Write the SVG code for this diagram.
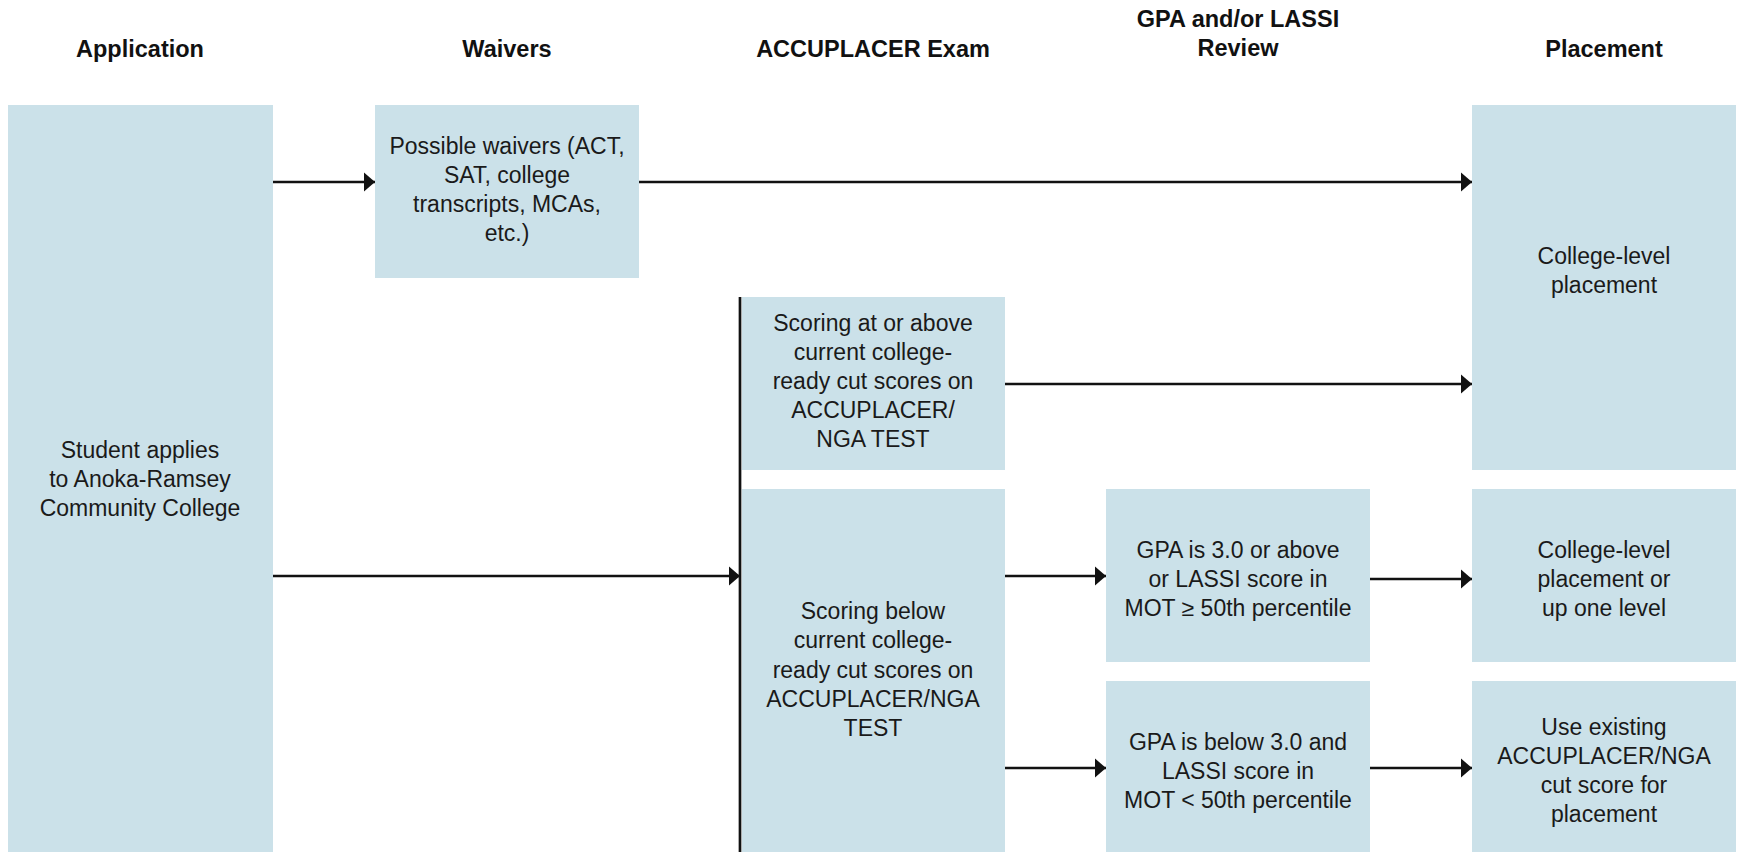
<svg xmlns="http://www.w3.org/2000/svg" width="1739" height="852" viewBox="0 0 1739 852">
<style>
  .box { fill: #cbe1e9; }
  .hdr { font-family: "Liberation Sans", Arial, sans-serif; font-size: 23.5px; font-weight: bold; fill: #111; text-anchor: middle; }
  .txt { font-family: "Liberation Sans", Arial, sans-serif; font-size: 23px; fill: #1a1a1a; text-anchor: middle; }
  .conn { stroke: #111; stroke-width: 2.7; fill: none; }
</style>
<defs>
  <marker id="arr" markerUnits="userSpaceOnUse" markerWidth="12" markerHeight="22" viewBox="0 0 12 22" refX="11" refY="11" orient="auto">
    <polygon points="0,1.5 11,11 0,20.5" fill="#111"/>
  </marker>
</defs>
<rect width="1739" height="852" fill="#ffffff"/>

<g id="headers">
  <text class="hdr" x="140" y="57">Application</text>
  <text class="hdr" x="507" y="57">Waivers</text>
  <text class="hdr" x="873" y="57">ACCUPLACER Exam</text>
  <text class="hdr" x="1238" y="27">GPA and/or LASSI</text>
  <text class="hdr" x="1238" y="56">Review</text>
  <text class="hdr" x="1604" y="57">Placement</text>
</g>

<g id="connectors">
  <line class="conn" x1="272" y1="182" x2="375" y2="182" marker-end="url(#arr)"/>
  <line class="conn" x1="639" y1="182" x2="1472" y2="182" marker-end="url(#arr)"/>
  <line class="conn" x1="1005" y1="384" x2="1472" y2="384" marker-end="url(#arr)"/>
  <line class="conn" x1="272" y1="576" x2="740" y2="576" marker-end="url(#arr)"/>
  <line class="conn" x1="1005" y1="576" x2="1106" y2="576" marker-end="url(#arr)"/>
  <line class="conn" x1="1370" y1="579" x2="1472" y2="579" marker-end="url(#arr)"/>
  <line class="conn" x1="1005" y1="768" x2="1106" y2="768" marker-end="url(#arr)"/>
  <line class="conn" x1="1370" y1="768" x2="1472" y2="768" marker-end="url(#arr)"/>
  <line class="conn" x1="740" y1="297" x2="740" y2="852" stroke-width="3"/>
</g>

<g id="application">
  <rect class="box" x="8" y="105" width="265" height="747"/>
  <text class="txt" x="140" y="458">Student applies</text>
  <text class="txt" x="140" y="487">to Anoka-Ramsey</text>
  <text class="txt" x="140" y="516">Community College</text>
</g>

<g id="waivers">
  <rect class="box" x="375" y="105" width="264" height="173"/>
  <text class="txt" x="507" y="154">Possible waivers (ACT,</text>
  <text class="txt" x="507" y="183">SAT, college</text>
  <text class="txt" x="507" y="212">transcripts, MCAs,</text>
  <text class="txt" x="507" y="241">etc.)</text>
</g>

<g id="scoring-above">
  <rect class="box" x="742" y="297" width="263" height="173"/>
  <text class="txt" x="873" y="331">Scoring at or above</text>
  <text class="txt" x="873" y="360">current college-</text>
  <text class="txt" x="873" y="389">ready cut scores on</text>
  <text class="txt" x="873" y="418">ACCUPLACER/</text>
  <text class="txt" x="873" y="447">NGA TEST</text>
</g>

<g id="scoring-below">
  <rect class="box" x="742" y="489" width="263" height="363"/>
  <text class="txt" x="873" y="619">Scoring below</text>
  <text class="txt" x="873" y="648">current college-</text>
  <text class="txt" x="873" y="678">ready cut scores on</text>
  <text class="txt" x="873" y="707">ACCUPLACER/NGA</text>
  <text class="txt" x="873" y="736">TEST</text>
</g>

<g id="gpa-above">
  <rect class="box" x="1106" y="489" width="264" height="173"/>
  <text class="txt" x="1238" y="558">GPA is 3.0 or above</text>
  <text class="txt" x="1238" y="587">or LASSI score in</text>
  <text class="txt" x="1238" y="616">MOT ≥ 50th percentile</text>
</g>

<g id="gpa-below">
  <rect class="box" x="1106" y="681" width="264" height="171"/>
  <text class="txt" x="1238" y="750">GPA is below 3.0 and</text>
  <text class="txt" x="1238" y="779">LASSI score in</text>
  <text class="txt" x="1238" y="808">MOT &lt; 50th percentile</text>
</g>

<g id="placement-college">
  <rect class="box" x="1472" y="105" width="264" height="365"/>
  <text class="txt" x="1604" y="264">College-level</text>
  <text class="txt" x="1604" y="293">placement</text>
</g>

<g id="placement-up">
  <rect class="box" x="1472" y="489" width="264" height="173"/>
  <text class="txt" x="1604" y="558">College-level</text>
  <text class="txt" x="1604" y="587">placement or</text>
  <text class="txt" x="1604" y="616">up one level</text>
</g>

<g id="placement-existing">
  <rect class="box" x="1472" y="681" width="264" height="171"/>
  <text class="txt" x="1604" y="735">Use existing</text>
  <text class="txt" x="1604" y="764">ACCUPLACER/NGA</text>
  <text class="txt" x="1604" y="793">cut score for</text>
  <text class="txt" x="1604" y="822">placement</text>
</g>
</svg>
